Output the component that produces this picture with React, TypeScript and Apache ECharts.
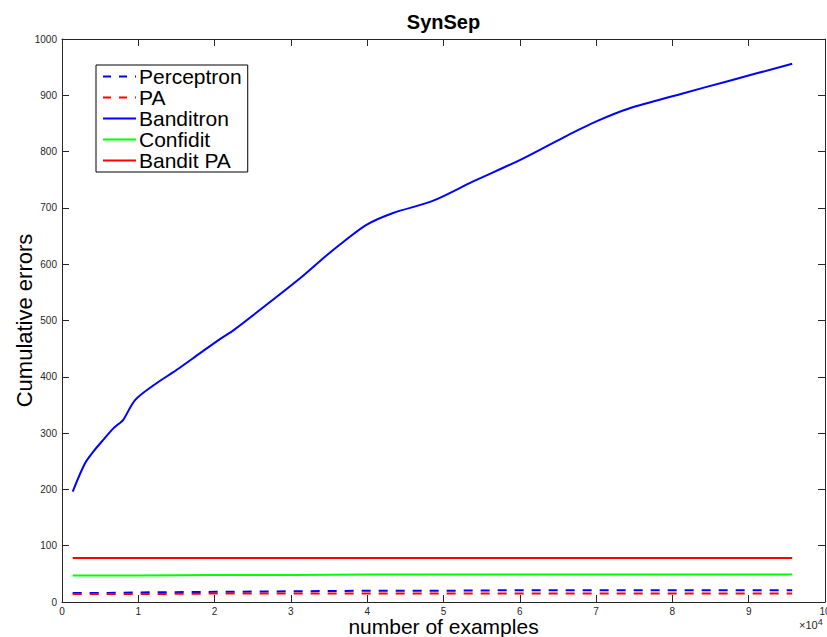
import React, { useEffect, useRef } from "react";
import * as echarts from "echarts";

const flatX = [1400, 5000, 10000, 20000, 30000, 40000, 50000, 60000, 70000, 80000, 90000, 95700];
const perceptronY = [16, 16, 17, 18, 19, 20, 20, 21, 21, 21, 21, 21];
const paY = [14, 14, 14, 15, 15, 15, 15, 15, 15, 15, 15, 15];
const confiditY = [47, 47, 47, 48, 48, 49, 49, 49, 49, 49, 49, 49];
const banditPaY = [78, 78, 78, 78, 78, 78, 78, 78, 78, 78, 78, 78];

const banditronX = [1400, 3000, 4100, 5400, 6700, 7400, 8000, 9600, 12000, 15000, 18100, 20700, 22500, 26800, 31200, 34700, 36900, 39900, 43400, 48500, 53900, 60000, 65700, 70100, 74400, 81000, 87500, 95700];
const banditronY = [196, 246, 267, 288, 308, 316, 323, 359, 385, 412, 442, 467, 483, 528, 575, 616, 640, 670, 691, 712, 747, 785, 825, 854, 877, 902, 926, 956];

const seriesNames = ["Perceptron", "PA", "Banditron", "Confidit", "Bandit PA"];
const xTicks = [0, 10000, 20000, 30000, 40000, 50000, 60000, 70000, 80000, 90000, 100000];

const zip = (xs: number[], ys: number[]) => xs.map((x, i) => [x, ys[i]]);

export default function App() {
  const ref = useRef<HTMLDivElement>(null);
  useEffect(() => {
    if (!ref.current) return;
    const chart = echarts.init(ref.current, null, { renderer: "svg" });
    const axisColor = "#262626";
    const font = "'Liberation Sans', Arial, Helvetica, sans-serif";
    const baseX = {
      type: "value",
      min: xTicks[0],
      max: xTicks[xTicks.length - 1],
      interval: 10000,
      axisLine: { show: true, onZero: false, lineStyle: { color: axisColor, width: 1 } },
      axisTick: { show: true, inside: true, length: 7, lineStyle: { color: axisColor } },
      splitLine: { show: false },
    };
    const baseY = {
      type: "value",
      min: 0,
      max: 1000,
      interval: 100,
      axisLine: { show: true, onZero: false, lineStyle: { color: axisColor, width: 1 } },
      axisTick: { show: true, inside: true, length: 7, lineStyle: { color: axisColor } },
      splitLine: { show: false },
    };
    const dashed = { type: [9, 8] as any, width: 2 };
    const legendDash = { type: [8, 8] as any, width: 2 };
    chart.setOption({
      animation: false,
      textStyle: { fontFamily: font },
      grid: { left: 62, right: 2, top: 39, bottom: 35, containLabel: false, outerBoundsMode: "none" },
      graphic: [
        {
          type: "text",
          x: 443.5,
          y: 22,
          style: {
            text: "SynSep",
            fontSize: 20,
            fontWeight: "bold",
            fontFamily: font,
            fill: "#000",
            textAlign: "center",
            textVerticalAlign: "middle",
          },
        },
        {
          type: "text",
          x: 799,
          y: 625,
          style: {
            text: "×10{s|4}",
            rich: { s: { fontSize: 9, verticalAlign: "top", padding: [0, 0, 6, 0], fill: axisColor, fontFamily: font } },
            fontSize: 11,
            fontFamily: font,
            fill: axisColor,
            textAlign: "left",
            textVerticalAlign: "middle",
          },
        },
      ],
      legend: {
        orient: "vertical",
        left: 96,
        top: 65,
        data: [
          { name: seriesNames[0], lineStyle: legendDash },
          { name: seriesNames[1], lineStyle: legendDash },
          { name: seriesNames[2] },
          { name: seriesNames[3] },
          { name: seriesNames[4] },
        ],
        itemWidth: 33,
        itemHeight: 20,
        itemGap: 0,
        itemStyle: { opacity: 0 },
        padding: [1, 6, 1, 6],
        borderColor: "#000",
        borderWidth: 1,
        backgroundColor: "#fff",
        textStyle: { fontSize: 21, color: "#000", fontFamily: font, lineHeight: 20, padding: [0, 0, 0, -2] },
      },
      xAxis: [
        {
          ...baseX,
          position: "bottom",
          name: "number of examples",
          nameLocation: "middle",
          nameGap: 14,
          nameMoveOverlap: false,
          nameTextStyle: { fontSize: 21, color: "#000", fontFamily: font },
          axisLabel: {
            show: true,
            color: axisColor,
            fontSize: 10,
            margin: 4,
            fontFamily: font,
            formatter: (v: number) => String(v / 10000),
          },
        },
        { ...baseX, position: "top", axisLabel: { show: false } },
      ],
      yAxis: [
        {
          ...baseY,
          position: "left",
          name: "Cumulative errors",
          nameLocation: "middle",
          nameGap: 27,
          nameMoveOverlap: false,
          nameTextStyle: { fontSize: 22, color: "#000", fontFamily: font },
          axisLabel: {
            show: true,
            color: axisColor,
            fontSize: 10,
            margin: 5,
            fontFamily: font,
            formatter: (v: number) => String(v),
          },
        },
        { ...baseY, position: "right", axisLabel: { show: false } },
      ],
      series: [
        {
          name: "Perceptron",
          type: "line",
          data: zip(flatX, perceptronY),
          showSymbol: false,
          symbol: "none",
          color: "#0000ff",
          lineStyle: { ...dashed, color: "#0000ff" },
          z: 4,
        },
        {
          name: "PA",
          type: "line",
          data: zip(flatX, paY),
          showSymbol: false,
          symbol: "none",
          color: "#ff0000",
          lineStyle: { ...dashed, color: "#ff0000" },
          z: 5,
        },
        {
          name: "Banditron",
          type: "line",
          data: zip(banditronX, banditronY),
          showSymbol: false,
          symbol: "none",
          smooth: 0.3,
          color: "#0000ff",
          lineStyle: { width: 2, color: "#0000ff" },
        },
        {
          name: "Confidit",
          type: "line",
          data: zip(flatX, confiditY),
          showSymbol: false,
          symbol: "none",
          color: "#00ff00",
          lineStyle: { width: 2, color: "#00ff00" },
        },
        {
          name: "Bandit PA",
          type: "line",
          data: zip(flatX, banditPaY),
          showSymbol: false,
          symbol: "none",
          color: "#ff0000",
          lineStyle: { width: 2, color: "#ff0000" },
        },
      ],
    });
    return () => chart.dispose();
  }, []);
  return (
    <div
      ref={ref}
      style={{ position: "fixed", left: 0, top: 0, width: 827, height: 637, background: "#fff" }}
    />
  );
}
